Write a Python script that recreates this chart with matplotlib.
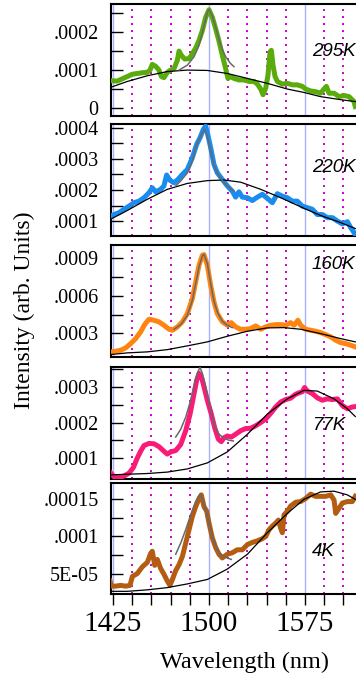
import numpy as np
import matplotlib
matplotlib.use("Agg")
import matplotlib.pyplot as plt
from matplotlib.ticker import FixedLocator, FixedFormatter

plt.rcParams['font.family'] = ['Liberation Serif', 'DejaVu Serif']

SCALE = 1e-4  # all intensities below are in units of 1e-4

# ---- 295K ----
wl_295 = [1423.2, 1428.4, 1432.3, 1436.2, 1440.1, 1444.0, 1447.9, 1451.8, 1453.9, 1455.7, 1458.3, 1460.9,
          1462.8, 1464.8, 1467.4, 1470.1, 1472.7, 1475.3, 1476.6, 1478.4, 1481.0, 1484.4, 1487.0, 1489.6,
          1492.2, 1494.8, 1497.4, 1500.0, 1502.6, 1505.2, 1507.8, 1510.4, 1513.0, 1514.8, 1516.9, 1519.5,
          1523.4, 1527.3, 1531.3, 1535.2, 1537.8, 1540.4, 1542.2, 1544.3, 1546.1, 1547.7, 1548.7, 1550.0,
          1551.6, 1553.4, 1557.3, 1561.2, 1565.1, 1569.0, 1572.9, 1575.5, 1579.4, 1583.3, 1587.2, 1589.8,
          1591.7, 1593.8, 1597.7, 1601.6, 1605.5, 1609.4, 1613.3, 1614.3]
int_295 = [0.72, 0.71, 0.77, 0.83, 0.89, 0.91, 0.93, 0.94, 1.00, 1.15, 1.10, 1.00,
           0.83, 0.80, 0.94, 1.00, 1.04, 1.26, 1.50, 1.39, 1.29, 1.30, 1.43, 1.58,
           1.78, 2.04, 2.39, 2.59, 2.39, 2.09, 1.76, 1.39, 1.04, 0.78, 0.83, 0.78,
           0.74, 0.74, 0.70, 0.70, 0.63, 0.50, 0.35, 0.52, 0.87, 1.48, 1.52, 1.13,
           0.83, 0.70, 0.63, 0.65, 0.61, 0.61, 0.57, 0.50, 0.45, 0.43, 0.39, 0.50,
           0.57, 0.39, 0.39, 0.30, 0.33, 0.30, 0.17, 0.04]
bwl_295 = [1422.7, 1436.2, 1451.8, 1467.4, 1483.1, 1498.7, 1514.3, 1530.0, 1545.6, 1561.2, 1574.2, 1587.2, 1602.9, 1614.3]
bint_295 = [0.54, 0.70, 0.85, 0.96, 1.00, 0.99, 0.91, 0.78, 0.65, 0.50, 0.41, 0.30, 0.22, 0.17]
pwl_295 = [1476.6, 1483.1, 1488.3, 1492.2, 1496.1, 1498.7, 1500.0, 1502.6, 1505.2, 1509.1, 1513.0, 1516.9, 1519.5]
pint_295 = [1.00, 1.13, 1.35, 1.65, 2.17, 2.52, 2.59, 2.43, 2.13, 1.65, 1.35, 1.17, 1.09]

# ---- 220K ----
wl_220 = [1423.2, 1425.8, 1429.7, 1433.6, 1437.5, 1441.4, 1445.3, 1449.2, 1453.1, 1455.7, 1458.3, 1462.2,
          1464.8, 1466.9, 1469.5, 1472.7, 1475.8, 1479.2, 1483.1, 1487.0, 1490.4, 1493.0, 1495.6, 1497.4,
          1498.7, 1501.3, 1503.9, 1506.5, 1510.4, 1514.3, 1518.2, 1520.8, 1523.4, 1526.0, 1530.0, 1533.9,
          1537.8, 1541.7, 1545.6, 1549.5, 1553.4, 1557.3, 1561.2, 1565.1, 1569.0, 1572.9, 1576.8, 1580.7,
          1584.6, 1588.5, 1592.4, 1596.4, 1600.3, 1604.2, 1608.1, 1610.7, 1614.3]
int_220 = [1.16, 1.21, 1.27, 1.38, 1.48, 1.59, 1.64, 1.75, 1.91, 2.07, 1.94, 2.02,
           2.13, 2.48, 2.31, 2.23, 2.34, 2.50, 2.66, 3.04, 3.47, 3.68, 3.95, 4.05,
           3.84, 3.36, 2.82, 2.55, 2.34, 2.13, 1.96, 1.77, 1.94, 1.77, 1.75, 1.66,
           1.77, 1.86, 1.73, 1.59, 1.88, 1.80, 1.75, 1.64, 1.64, 1.48, 1.43, 1.38,
           1.21, 1.21, 1.11, 1.11, 1.00, 0.91, 0.98, 0.79, 0.57]
bwl_220 = [1422.7, 1436.2, 1451.8, 1467.4, 1483.1, 1498.7, 1511.7, 1524.7, 1540.4, 1556.0, 1574.2, 1587.2, 1602.9, 1614.3]
bint_220 = [1.05, 1.34, 1.70, 2.02, 2.21, 2.30, 2.32, 2.25, 2.02, 1.75, 1.41, 1.18, 0.95, 0.76]
pwl_220 = [1474.0, 1477.9, 1483.1, 1487.0, 1489.6, 1492.2, 1494.8, 1496.6, 1498.7, 1501.3, 1503.9, 1507.8,
           1511.7, 1515.6, 1519.5]
pint_220 = [2.13, 2.29, 2.55, 2.93, 3.36, 3.63, 3.84, 3.95, 3.73, 3.25, 2.77, 2.45, 2.23, 2.07, 1.96]

# ---- 160K ----
wl_160 = [1423.2, 1427.1, 1431.0, 1434.9, 1438.8, 1442.7, 1446.6, 1449.7, 1453.1, 1457.0, 1460.9, 1464.8,
          1468.8, 1471.4, 1475.3, 1479.2, 1483.1, 1487.0, 1489.6, 1492.2, 1494.8, 1496.1, 1498.7, 1501.3,
          1503.9, 1506.5, 1510.4, 1514.3, 1517.4, 1520.8, 1524.7, 1528.6, 1532.6, 1536.5, 1540.4, 1544.3,
          1548.2, 1552.1, 1556.0, 1559.9, 1563.8, 1566.4, 1569.5, 1571.6, 1575.5, 1579.4, 1583.3, 1587.2,
          1591.1, 1595.1, 1599.0, 1602.9, 1606.8, 1610.7, 1614.3]
int_160 = [1.51, 1.56, 1.64, 1.83, 2.17, 2.57, 3.11, 3.69, 4.12, 4.04, 3.91, 3.64,
           3.32, 3.24, 3.51, 3.91, 4.57, 5.77, 7.11, 8.44, 9.24, 9.29, 8.44, 6.84,
           5.51, 4.57, 3.91, 3.64, 3.85, 3.51, 3.32, 3.32, 3.37, 3.59, 3.32, 3.51,
           3.64, 3.69, 3.69, 3.64, 3.85, 3.64, 4.04, 3.64, 3.32, 3.24, 3.16, 3.05,
           2.89, 2.71, 2.44, 2.25, 2.17, 2.04, 1.91]
bwl_160 = [1422.7, 1436.2, 1451.8, 1467.4, 1483.1, 1498.7, 1514.3, 1530.0, 1545.6, 1558.6, 1571.6, 1587.2, 1602.9, 1614.3]
bint_160 = [1.29, 1.43, 1.51, 1.69, 1.99, 2.31, 2.76, 3.16, 3.43, 3.45, 3.32, 2.97, 2.57, 2.31]
pwl_160 = [1472.7, 1477.9, 1483.1, 1487.0, 1489.6, 1492.2, 1494.8, 1496.1, 1498.7, 1501.3, 1503.9, 1506.5,
           1510.4, 1514.3, 1518.2]
pint_160 = [3.32, 3.69, 4.44, 5.64, 6.97, 8.31, 9.19, 9.32, 8.57, 6.97, 5.56, 4.71, 3.96, 3.64, 3.45]

# ---- 77K ----
wl_77 = [1422.7, 1425.8, 1429.7, 1433.6, 1437.5, 1440.9, 1444.0, 1446.6, 1449.2, 1453.1, 1457.0, 1460.9,
         1464.8, 1467.4, 1470.1, 1474.0, 1477.9, 1481.8, 1485.2, 1487.8, 1490.4, 1492.2, 1494.0, 1496.1,
         1498.7, 1501.8, 1504.4, 1507.3, 1509.6, 1511.7, 1514.3, 1517.4, 1520.8, 1524.7, 1528.6, 1532.6,
         1536.5, 1540.4, 1544.3, 1548.2, 1552.1, 1556.0, 1559.9, 1563.8, 1567.7, 1570.3, 1572.9, 1574.7,
         1576.8, 1580.7, 1584.6, 1588.5, 1592.4, 1596.4, 1600.3, 1604.2, 1608.1, 1612.0, 1614.3]
int_77 = [0.60, 0.47, 0.44, 0.49, 0.57, 0.73, 1.00, 1.19, 1.35, 1.41, 1.40, 1.32,
          1.19, 1.11, 1.17, 1.21, 1.38, 1.77, 2.24, 2.72, 3.20, 3.39, 3.30, 3.01,
          2.63, 2.24, 1.86, 1.53, 1.46, 1.57, 1.62, 1.59, 1.67, 1.77, 1.83, 1.84,
          1.91, 2.00, 2.10, 2.26, 2.44, 2.58, 2.65, 2.69, 2.80, 2.84, 2.87, 2.99,
          2.89, 2.82, 2.70, 2.63, 2.67, 2.65, 2.67, 2.48, 2.39, 2.44, 2.45]
bwl_77 = [1422.7, 1436.2, 1451.8, 1467.4, 1483.1, 1498.7, 1514.3, 1530.0, 1545.6, 1561.2, 1574.2, 1584.6,
          1597.7, 1608.1, 1614.3]
bint_77 = [0.52, 0.54, 0.56, 0.60, 0.69, 0.86, 1.17, 1.67, 2.24, 2.67, 2.91, 2.89, 2.67, 2.39, 2.17]
pwl_77 = [1474.0, 1477.9, 1481.8, 1485.7, 1488.8, 1491.4, 1493.0, 1494.8, 1497.4, 1500.8, 1503.9, 1507.8,
          1511.7, 1515.6, 1519.0]
pint_77 = [1.59, 1.81, 2.15, 2.63, 3.11, 3.44, 3.56, 3.39, 3.01, 2.44, 1.96, 1.67, 1.56, 1.50, 1.48]

# ---- 4K ----
wl_4 = [1422.7, 1423.7, 1427.1, 1431.0, 1434.9, 1438.3, 1440.1, 1444.0, 1447.9, 1451.8, 1454.4, 1455.7,
        1457.6, 1459.6, 1462.2, 1464.8, 1467.4, 1469.5, 1471.4, 1474.0, 1476.6, 1479.2, 1481.8, 1484.4,
        1487.0, 1489.6, 1492.2, 1494.0, 1496.1, 1498.2, 1500.0, 1502.6, 1505.2, 1507.8, 1510.4, 1514.3,
        1518.2, 1522.1, 1526.0, 1530.0, 1533.9, 1537.8, 1541.7, 1544.3, 1546.9, 1549.5, 1552.1, 1554.2,
        1556.0, 1557.3, 1558.6, 1561.2, 1563.8, 1567.7, 1571.6, 1575.5, 1579.4, 1583.3, 1587.2, 1591.1,
        1595.1, 1597.7, 1599.0, 1601.6, 1604.2, 1608.1, 1612.0, 1614.3]
int_4 = [0.40, 0.33, 0.33, 0.34, 0.33, 0.34, 0.46, 0.50, 0.59, 0.65, 0.77, 0.80,
         0.61, 0.69, 0.57, 0.49, 0.40, 0.34, 0.42, 0.54, 0.62, 0.73, 0.91, 1.09,
         1.27, 1.40, 1.51, 1.56, 1.40, 1.34, 1.18, 0.98, 0.85, 0.76, 0.71, 0.76,
         0.78, 0.82, 0.82, 0.89, 0.92, 0.94, 0.97, 1.00, 1.09, 1.14, 1.18, 1.22,
         1.11, 1.05, 1.29, 1.34, 1.41, 1.46, 1.47, 1.51, 1.57, 1.54, 1.54, 1.54,
         1.56, 1.49, 1.31, 1.38, 1.45, 1.47, 1.47, 1.54]
bwl_4 = [1422.7, 1436.2, 1451.8, 1467.4, 1483.1, 1498.7, 1514.3, 1530.0, 1545.6, 1561.2, 1574.2, 1587.2,
         1597.7, 1608.1, 1614.3]
bint_4 = [0.26, 0.26, 0.28, 0.31, 0.36, 0.42, 0.56, 0.76, 1.05, 1.31, 1.50, 1.60, 1.61, 1.56, 1.50]
pwl_4 = [1474.0, 1477.9, 1481.8, 1485.7, 1489.6, 1493.0, 1494.8, 1497.4, 1500.0, 1503.4, 1506.5, 1510.4,
         1514.3, 1517.4]
pint_4 = [0.76, 0.91, 1.09, 1.29, 1.47, 1.57, 1.51, 1.36, 1.18, 0.96, 0.82, 0.74, 0.71, 0.69]

temps = ['295K', '220K', '160K', '77K', '4K']
colors = ['#5aab0c', '#1a8cf0', '#ff8410', '#fa1a78', '#b35c12']
panels = [(wl_295, int_295, bwl_295, bint_295, pwl_295, pint_295),
          (wl_220, int_220, bwl_220, bint_220, pwl_220, pint_220),
          (wl_160, int_160, bwl_160, bint_160, pwl_160, pint_160),
          (wl_77, int_77, bwl_77, bint_77, pwl_77, pint_77),
          (wl_4, int_4, bwl_4, bint_4, pwl_4, pint_4)]

ylims = [(-0.21, 2.74), (0.52, 4.12), (1.10, 10.06), (0.405, 3.57), (0.224, 1.72)]
yticks = [[0, 0.5, 1, 1.5, 2, 2.5],
          [1, 1.5, 2, 2.5, 3, 3.5, 4],
          [3, 4.5, 6, 7.5, 9],
          [1, 1.5, 2, 2.5, 3, 3.5],
          [0.5, 0.75, 1, 1.25, 1.5]]
ylabels = [['0', '', '.0001', '', '.0002', ''],
           ['.0001', '', '.0002', '', '.0003', '', '.0004'],
           ['.0003', '', '.0006', '', '.0009'],
           ['.0001', '', '.0002', '', '.0003', ''],
           ['5E-05', '', '.0001', '', '.00015']]

xticks = list(range(1425, 1606, 15))
xlabels = ['1425' if t == 1425 else '1500' if t == 1500 else '1575' if t == 1575 else '' for t in xticks]

# panel top/bottom in pixels
W, H = 356, 679
tops = [4, 124, 245, 367, 483]
bots = [116, 236, 357, 479, 594]
label_y = [52, 168, 265, 425, 551]

fig = plt.figure(figsize=(W / 100, H / 100), dpi=100)

x0 = 111
for i, (wl, it, bwl, bit, pwl, pit) in enumerate(panels):
    ax = fig.add_axes([x0 / W, 1 - bots[i] / H, (362 - x0) / W, (bots[i] - tops[i]) / H])
    ax.set_xlim(1425 + (x0 - 113) / 1.28, 1425 + (362 - 113) / 1.28)
    ax.set_ylim(ylims[i][0] * SCALE, ylims[i][1] * SCALE)

    for t in xticks:
        if t in (1425, 1500, 1575):
            ax.axvline(t, color='#aab0ff', lw=1.0, zorder=1)
        else:
            ax.axvline(t, color='#c800c8', lw=1.4, ls=(0, (1.0, 2.6)), zorder=1)

    ax.plot(wl, np.array(it) * SCALE, color=colors[i], lw=3.6, solid_joinstyle='round', zorder=3)
    ax.plot(bwl, np.array(bit) * SCALE, color='black', lw=0.9, zorder=4)
    ax.plot(pwl, np.array(pit) * SCALE, color='#686868', lw=1.1, zorder=5)

    ax.yaxis.set_major_locator(FixedLocator([v * SCALE for v in yticks[i]]))
    ax.yaxis.set_major_formatter(FixedFormatter(ylabels[i]))
    ax.tick_params(axis='y', direction='in', length=8.5, width=1.0, labelsize=14.5, pad=9)
    ax.xaxis.set_major_locator(FixedLocator(xticks))
    if i == 4:
        ax.xaxis.set_major_formatter(FixedFormatter(xlabels))
        ax.tick_params(axis='x', direction='out', length=8, width=1.0, labelsize=21, pad=4)
    else:
        ax.tick_params(axis='x', length=0, labelbottom=False)
    for s in ax.spines.values():
        s.set_linewidth(1.5)
    ax.spines['right'].set_visible(False)

    fig.text(312 / W, 1 - label_y[i] / H, temps[i], family='Liberation Sans', style='italic',
             fontsize=13.5, va='center', ha='left')

fig.text(24 / W, 1 - 310 / H, 'Intensity (arb. Units)', rotation=90, fontsize=17,
         ha='center', va='center')
fig.text(244 / W, 1 - 662 / H, 'Wavelength (nm)', fontsize=17.5, ha='center', va='center')

fig.savefig('out.png', dpi=100)
